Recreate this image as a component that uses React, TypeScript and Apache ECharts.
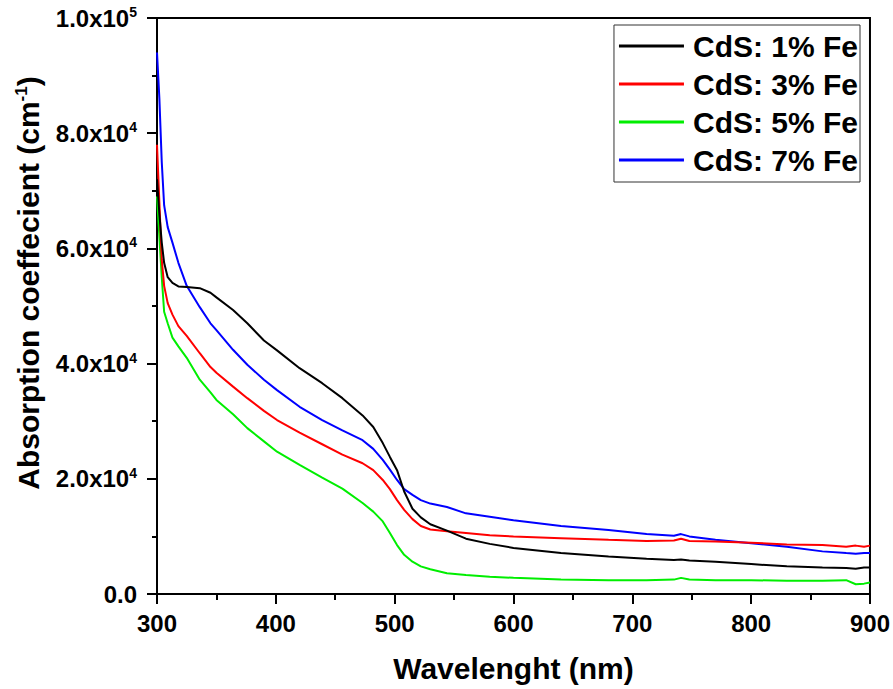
import React, { useEffect, useRef } from "react";
import * as echarts from "echarts";

const wavelengths = [300, 302, 304, 306, 309, 313, 318, 325, 336, 345, 350, 364, 376, 390, 401, 420, 439, 456, 473, 482, 490, 496, 502, 508, 515, 522, 530, 544, 560, 580, 600, 640, 680, 712, 735, 741, 748, 770, 800, 830, 860, 880, 888, 895, 900];

const fe1 = [72, 66, 61, 57.5, 55, 54, 53.4, 53.3, 53.1, 52.3, 51.5, 49.3, 47, 44, 42.3, 39.2, 36.6, 34, 31, 29, 26.2, 23.8, 21.5, 17.8, 14.8, 13.3, 12.1, 11, 9.6, 8.7, 8.0, 7.1, 6.5, 6.1, 5.9, 6.0, 5.8, 5.6, 5.2, 4.8, 4.6, 4.5, 4.4, 4.6, 4.6];
const fe3 = [78, 68, 58, 53.5, 50.5, 48.5, 46.5, 44.8, 41.8, 39.4, 38.4, 36.0, 34, 31.8, 30.2, 28, 26, 24.2, 22.7, 21.5, 19.8, 18.2, 16.3, 14.6, 13, 11.8, 11.2, 10.9, 10.6, 10.2, 10.0, 9.7, 9.4, 9.2, 9.3, 9.6, 9.2, 9.1, 8.9, 8.6, 8.5, 8.2, 8.4, 8.2, 8.4];
const fe5 = [69, 62, 55, 49, 47, 44.5, 43, 41, 37.2, 35, 33.7, 31.2, 28.8, 26.5, 24.7, 22.4, 20.2, 18.3, 15.8, 14.3, 12.6, 10.6, 8.5, 6.8, 5.6, 4.8, 4.3, 3.6, 3.3, 3.0, 2.8, 2.5, 2.4, 2.4, 2.5, 2.8, 2.5, 2.4, 2.4, 2.3, 2.3, 2.4, 1.7, 1.8, 2.0];
const fe7 = [94, 86, 75, 67.5, 63.7, 61.0, 57.5, 53.5, 49.8, 47, 45.8, 42.4, 39.8, 37.2, 35.4, 32.5, 30.2, 28.4, 26.7, 25.2, 23.3, 21.6, 19.8, 18.2, 17.2, 16.3, 15.7, 15.1, 14.0, 13.4, 12.8, 11.8, 11.1, 10.4, 10.1, 10.4, 10.0, 9.4, 8.8, 8.2, 7.4, 7.1, 7.0, 7.1, 7.1];

const seriesNames = ["CdS: 1% Fe", "CdS: 3% Fe", "CdS: 5% Fe", "CdS: 7% Fe"];
const seriesColors = ["#000000", "#ff0000", "#00ee00", "#0000ff"];
const seriesValues = [fe1, fe3, fe5, fe7];
const valueScale = 1000;

const FONT = 'Arial, "Liberation Sans", sans-serif';

export default function App() {
  const ref = useRef<HTMLDivElement>(null);
  useEffect(() => {
    if (!ref.current) return;
    const chart = echarts.init(ref.current, null, { renderer: "svg" });
    const series = seriesNames.map((name, i) => ({
      name,
      type: "line",
      showSymbol: false,
      symbol: "none",
      data: wavelengths.map((w, j) => [w, seriesValues[i][j] * valueScale]),
      lineStyle: { color: seriesColors[i], width: 2 },
      itemStyle: { color: seriesColors[i] },
      z: 4 - i,
    }));
    chart.setOption({
      animation: false,
      backgroundColor: "#fff",
      grid: {
        left: 157,
        right: 22,
        top: 18,
        bottom: 95,
        show: true,
        borderColor: "#000",
        borderWidth: 2,
      },
      legend: {
        data: seriesNames,
        orient: "vertical",
        right: 33,
        top: 25,
        icon: "rect",
        itemWidth: 65,
        itemHeight: 3,
        itemGap: 4,
        padding: [4, 2, 5, 5],
        borderColor: "#333",
        borderWidth: 1,
        backgroundColor: "#fff",
        textStyle: {
          fontFamily: FONT,
          fontWeight: "bold",
          fontSize: 30,
          color: "#000",
          padding: [0, 0, 0, 4],
          lineHeight: 34,
        },
      },
      xAxis: {
        type: "value",
        min: 300,
        max: 900,
        interval: 100,
        name: "Wavelenght (nm)",
        nameLocation: "middle",
        nameGap: 59,
        nameMoveOverlap: false,
        nameTextStyle: { fontFamily: FONT, fontWeight: "bold", fontSize: 30, color: "#000" },
        axisLine: { show: true, lineStyle: { color: "#000", width: 2 } },
        axisTick: { show: true, length: 10, lineStyle: { color: "#000", width: 2 } },
        minorTick: { show: true, splitNumber: 2, length: 6, lineStyle: { color: "#000", width: 2 } },
        splitLine: { show: false },
        axisLabel: { fontFamily: FONT, fontWeight: "bold", fontSize: 24, lineHeight: 24, color: "#000", margin: 17 },
      },
      yAxis: {
        type: "value",
        min: 0,
        max: 100000,
        interval: 20000,
        axisLine: { show: true, lineStyle: { color: "#000", width: 2 } },
        axisTick: { show: true, length: 10, lineStyle: { color: "#000", width: 2 } },
        minorTick: { show: true, splitNumber: 2, length: 5, lineStyle: { color: "#000", width: 2 } },
        splitLine: { show: false },
        axisLabel: {
          margin: 20,
          formatter: (v: number) => {
            if (v === 0) return "{b|0.0}";
            const exp = Math.floor(Math.log10(v) + 1e-9);
            const m = (v / Math.pow(10, exp)).toFixed(1);
            return `{b|${m}x10}{s|${exp}}`;
          },
          rich: {
            b: { fontFamily: FONT, fontWeight: "bold", fontSize: 24, color: "#000" },
            s: { fontFamily: FONT, fontWeight: "bold", fontSize: 14, color: "#000", verticalAlign: "top", padding: [0, 0, 12, 0] },
          },
        },
      },
      graphic: [
        {
          type: "text",
          x: 28,
          y: 283,
          rotation: Math.PI / 2,
          style: {
            text: "{t|Absorption coeffecient (cm}{s|-1}{t|)}",
            align: "center",
            verticalAlign: "middle",
            rich: {
              t: { fontFamily: FONT, fontWeight: "bold", fontSize: 30, fill: "#000" },
              s: { fontFamily: FONT, fontWeight: "bold", fontSize: 17, fill: "#000", verticalAlign: "top", padding: [0, 0, 14, 0] },
            },
          },
        },
      ],
      series,
    });
    return () => chart.dispose();
  }, []);
  return <div ref={ref} style={{ position: "absolute", left: 0, top: 0, width: 893, height: 689 }} />;
}
